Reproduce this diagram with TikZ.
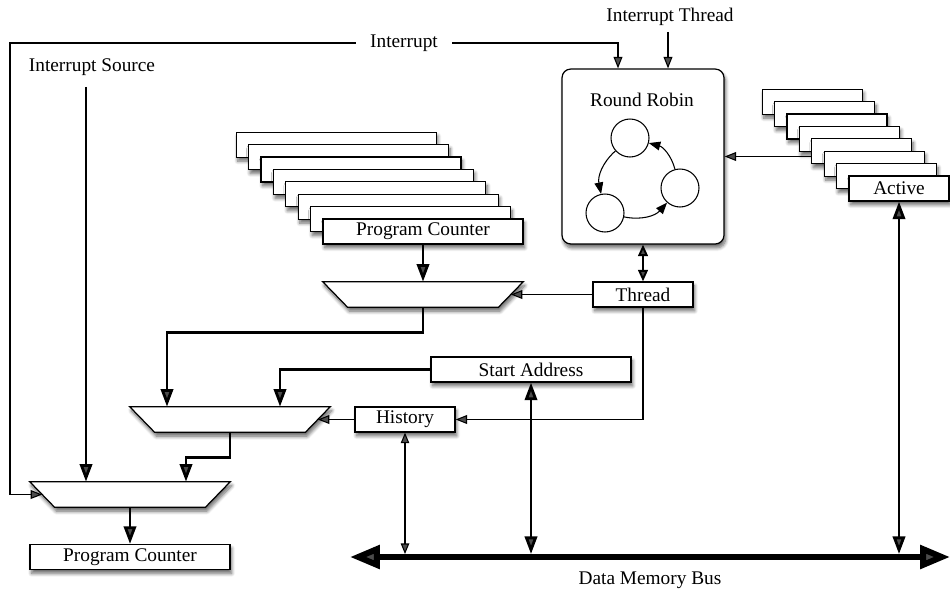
\documentclass[tikz,border=0pt]{standalone}
\usepackage{fontspec}
\setmainfont{Liberation Serif}
\usetikzlibrary{arrows.meta,positioning,calc,shadows.blur}

\begin{document}
\begin{tikzpicture}[
  x=0.02cm,y=-0.02cm,
  font=\fontsize{11}{13}\selectfont,
  shade/.style={blur shadow={shadow xshift=0.9pt, shadow yshift=-2.2pt, shadow blur radius=2pt, shadow blur steps=8, shadow opacity=60}},
  reg/.style={draw, fill=white, line width=0.7pt, minimum width=4cm, minimum height=0.5cm, inner sep=0pt, shade},
  sreg/.style={reg, minimum width=2cm},
  muxbox/.style={minimum width=4cm, minimum height=0.5cm, inner sep=0pt},
  muxline/.style={draw, fill=white, line width=0.7pt, line join=miter, shade},
  state/.style={circle, draw, line width=0.6pt, minimum size=0.76cm, inner sep=0pt},
  arr/.style={-{Triangle[length=6.5pt,width=5pt]}, line width=0.6pt},
  darr/.style={{Triangle[length=6pt,width=4.8pt]}-{Triangle[length=6pt,width=4.8pt]}, line width=0.6pt},
  marr/.style={{Triangle[length=6.5pt,width=5.5pt]}-{Triangle[length=6.5pt,width=5.5pt]}, line width=1.1pt},
  thk/.style={-{Triangle[length=10pt,width=7pt]}, line width=1.6pt},
  dthk/.style={{Triangle[length=10pt,width=7pt]}-{Triangle[length=10pt,width=7pt]}, line width=1.6pt},
  bus/.style={{Triangle[length=17pt,width=13pt]}-{Triangle[length=17pt,width=13pt]}, line width=3.4pt}
]
\useasboundingbox (0,0) rectangle (950,589);

% register stacks
\foreach \k in {7,...,1}
  \node[reg] (pc\k) at (423-12.4*\k,231.5-12.4*\k) {};
\node[reg] (pc) at (423,231.5) {Program Counter};
\foreach \k in {7,...,1}
  \node[sreg] (act\k) at (899-12.4*\k,188.5-12.4*\k) {};
\node[sreg] (act) at (899,188.5) {Active};

% scheduler
\node[draw, fill=white, rounded corners=5pt, line width=0.7pt, minimum width=3.24cm, minimum height=3.5cm, shade] (rr) at (643,156.5) {};
\node (rrlbl) at (642,100) {Round Robin};
\node[state] (c1) at (630,138) {};
\node[state] (c2) at (605,213) {};
\node[state] (c3) at (680,188) {};
\draw[arr] (c1) to[bend right=30] (c2);
\draw[arr] (c2) to[bend right=30] (c3);
\draw[arr] (c3) to[bend right=30] (c1);

% multiplexers
\node[muxbox] (mux1) at (423,294.5) {};
\node[muxbox] (mux2) at (230,419.5) {};
\node[muxbox] (mux3) at (130,494.5) {};
\foreach \m in {mux1,mux2,mux3}
  \draw[muxline] (\m.north west) -- (\m.north east) -- ([xshift=-0.5cm]\m.south east)
    -- ([xshift=0.5cm]\m.south west) -- cycle;

% registers
\node[sreg] (thread) at (643,294.5) {Thread};
\node[reg] (sa) at (531,369.5) {Start Address};
\node[sreg] (hist) at (405,419.5) {History};
\node[reg] (pcout) at (130,557) {Program Counter};

% labels
\node[inner xsep=8pt] (intr) at (404,43) {Interrupt};
\node (isrc) at (92,67) {Interrupt Source};
\node (ithr) at (670,17) {Interrupt Thread};
\node (buslbl) at (650,580) {Data Memory Bus};

\coordinate (ileft) at (10,43);
\coordinate (busl) at (350,557);
\coordinate (busr) at (950,557);
\coordinate (rra) at ($(rr.north)+(-25,0)$);
\coordinate (rrb) at ($(rr.north)+(25,0)$);
\coordinate (m2a) at ($(mux2.north)+(-63,0)$);
\coordinate (m2b) at ($(mux2.north)+(50,0)$);
\coordinate (m3a) at ($(mux3.north)+(-44,0)$);
\coordinate (m3b) at ($(mux3.north)+(56,0)$);

% control lines
\draw[arr] (intr.west) -- (ileft) |- ([xshift=0.25cm]mux3.west);
\draw[arr] (intr.east) -| (rra);
\draw[arr] (ithr.south -| rrb) -- (rrb);
\draw[arr] (act3.west |- rr.east) -- (rr.east);
\draw[marr] (rr.south) -- (thread.north);
\draw[arr] (thread.west) -- ([xshift=-0.25cm]mux1.east);
\draw[arr] (thread.south) |- (hist.east);
\draw[arr] (hist.west) -- ([xshift=-0.25cm]mux2.east);
\draw[thk] ([yshift=-3pt]isrc.south -| m3a) -- (m3a);

% address paths
\draw[thk] (pc.south) -- (mux1.north);
\draw[thk] (mux1.south) -- ++(0,25) -| (m2a);
\draw[thk] (sa.west) -| (m2b);
\draw[thk] (mux2.south) -- ++(0,25) -| (m3b);
\draw[thk] (mux3.south) -- (pcout.north);

% memory bus
\draw[bus] (busl) -- (busr);
\draw[darr] (hist.south) -- ([yshift=1.7pt]hist.south |- busl);
\draw[dthk] (sa.south) -- ([yshift=1.7pt]sa.south |- busl);
\draw[dthk] (act.south) -- ([yshift=1.7pt]act.south |- busl);
\end{tikzpicture}
\end{document}
